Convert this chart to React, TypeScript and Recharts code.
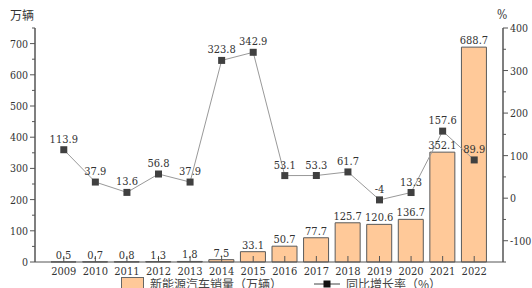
import React from 'react'
import {
  ComposedChart,
  Bar,
  Line,
  XAxis,
  YAxis,
  LabelList,
} from 'recharts'

const years = ['2009', '2010', '2011', '2012', '2013', '2014', '2015', '2016', '2017', '2018', '2019', '2020', '2021', '2022']
const sales = [0.5, 0.7, 0.8, 1.3, 1.8, 7.5, 33.1, 50.7, 77.7, 125.7, 120.6, 136.7, 352.1, 688.7]
const growth = [113.9, 37.9, 13.6, 56.8, 37.9, 323.8, 342.9, 53.1, 53.3, 61.7, -4, 13.3, 157.6, 89.9]

const leftTicks = [0, 50, 100, 150, 200, 250, 300, 350, 400, 450, 500, 550, 600, 650, 700, 750]
const rightTicks = [-150, -100, -50, 0, 50, 100, 150, 200, 250, 300, 350, 400]

const data = years.map((year, i) => ({ year, sales: sales[i], growth: growth[i] }))

const FONT = "'DejaVu Serif Condensed', 'DejaVu Serif', serif"
const CJK = "'Noto Sans CJK SC', sans-serif"
const AXIS = '#555'
const TEXT = '#333'

const XTick = ({ x, y, payload }: any) => (
  <g>
    <line x1={x} x2={x} y1={y} y2={y - 6} stroke={AXIS} />
    <text x={x} y={y + 13} textAnchor="middle" fontSize={11} fontFamily={FONT} fill={TEXT}>
      {payload.value}
    </text>
  </g>
)

const LeftTick = ({ x, y, payload }: any) => {
  const major = payload.value % 100 === 0
  return (
    <g>
      <line x1={x} x2={x - (major ? 5 : 3)} y1={y} y2={y} stroke={AXIS} />
      {major && (
        <text x={x - 7} y={y + 4} textAnchor="end" fontSize={10.5} fontFamily={FONT} fill={TEXT}>
          {payload.value}
        </text>
      )}
    </g>
  )
}

const RightTick = ({ x, y, payload }: any) => {
  const major = payload.value % 100 === 0
  return (
    <g>
      <line x1={x} x2={x + (major ? 5 : 3)} y1={y} y2={y} stroke={AXIS} />
      {major && (
        <text x={x + 7} y={y + 4} textAnchor="start" fontSize={10.5} fontFamily={FONT} fill={TEXT}>
          {payload.value}
        </text>
      )}
    </g>
  )
}

const SquareDot = ({ cx, cy }: any) => (
  <rect x={cx - 3.5} y={cy - 3.5} width={7} height={7} fill="#404040" />
)

export default function App() {
  return (
    <div style={{ position: 'absolute', left: 0, top: 0, width: 532, height: 288, overflow: 'hidden', background: '#fff' }}>
      <div style={{ position: 'absolute', left: 10, top: 6, fontSize: 12, color: TEXT, fontFamily: CJK }}>万辆</div>
      <div style={{ position: 'absolute', left: 497, top: 8, fontSize: 12, color: TEXT, fontFamily: FONT }}>%</div>
      <ComposedChart
        width={532}
        height={288}
        data={data}
        margin={{ top: 28, right: 0, left: 0, bottom: 0 }}
      >
        <XAxis
          dataKey="year"
          height={26}
          padding={{ left: 13, right: 13 }}
          axisLine={{ stroke: AXIS }}
          tickLine={false}
          tickSize={0}
          tickMargin={0}
          tick={<XTick />}
          interval={0}
        />
        <YAxis
          yAxisId="left"
          width={35}
          domain={[0, 750]}
          ticks={leftTicks}
          interval={0}
          axisLine={{ stroke: AXIS, strokeWidth: 1.5 }}
          tickLine={false}
          tickSize={0}
          tickMargin={0}
          tick={<LeftTick />}
        />
        <YAxis
          yAxisId="right"
          orientation="right"
          width={29}
          domain={[-150, 400]}
          ticks={rightTicks}
          interval={0}
          axisLine={{ stroke: AXIS, strokeWidth: 1.5 }}
          tickLine={false}
          tickSize={0}
          tickMargin={0}
          tick={<RightTick />}
        />
        <Bar
          yAxisId="left"
          dataKey="sales"
          barSize={25}
          fill="#FFC999"
          stroke="#5a5a5a"
          strokeWidth={1}
          isAnimationActive={false}
        >
          <LabelList dataKey="sales" position="top" offset={3} fontSize={11} fontFamily={FONT} fill={TEXT} />
        </Bar>
        <Line
          yAxisId="right"
          dataKey="growth"
          stroke="#999"
          strokeWidth={1}
          dot={<SquareDot />}
          activeDot={false}
          isAnimationActive={false}
        >
          <LabelList dataKey="growth" position="top" offset={7} fontSize={11} fontFamily={FONT} fill={TEXT} />
        </Line>
      </ComposedChart>
      <div
        style={{
          position: 'absolute',
          left: 121,
          top: 277,
          display: 'flex',
          alignItems: 'center',
          fontSize: 12,
          lineHeight: '12px',
          color: '#444',
          whiteSpace: 'nowrap',
          fontFamily: CJK,
        }}
      >
        <span style={{ display: 'inline-block', width: 21, height: 11, background: '#FFC999', border: '1px solid #666', marginRight: 6 }} />
        <span>新能源汽车销量（万辆）</span>
        <svg width={26} height={10} style={{ marginLeft: 32, marginRight: 6 }}>
          <line x1={0} x2={26} y1={5} y2={5} stroke="#444" />
          <rect x={9.5} y={1.5} width={7} height={7} fill="#111" />
        </svg>
        <span>同比增长率（%）</span>
      </div>
    </div>
  )
}
